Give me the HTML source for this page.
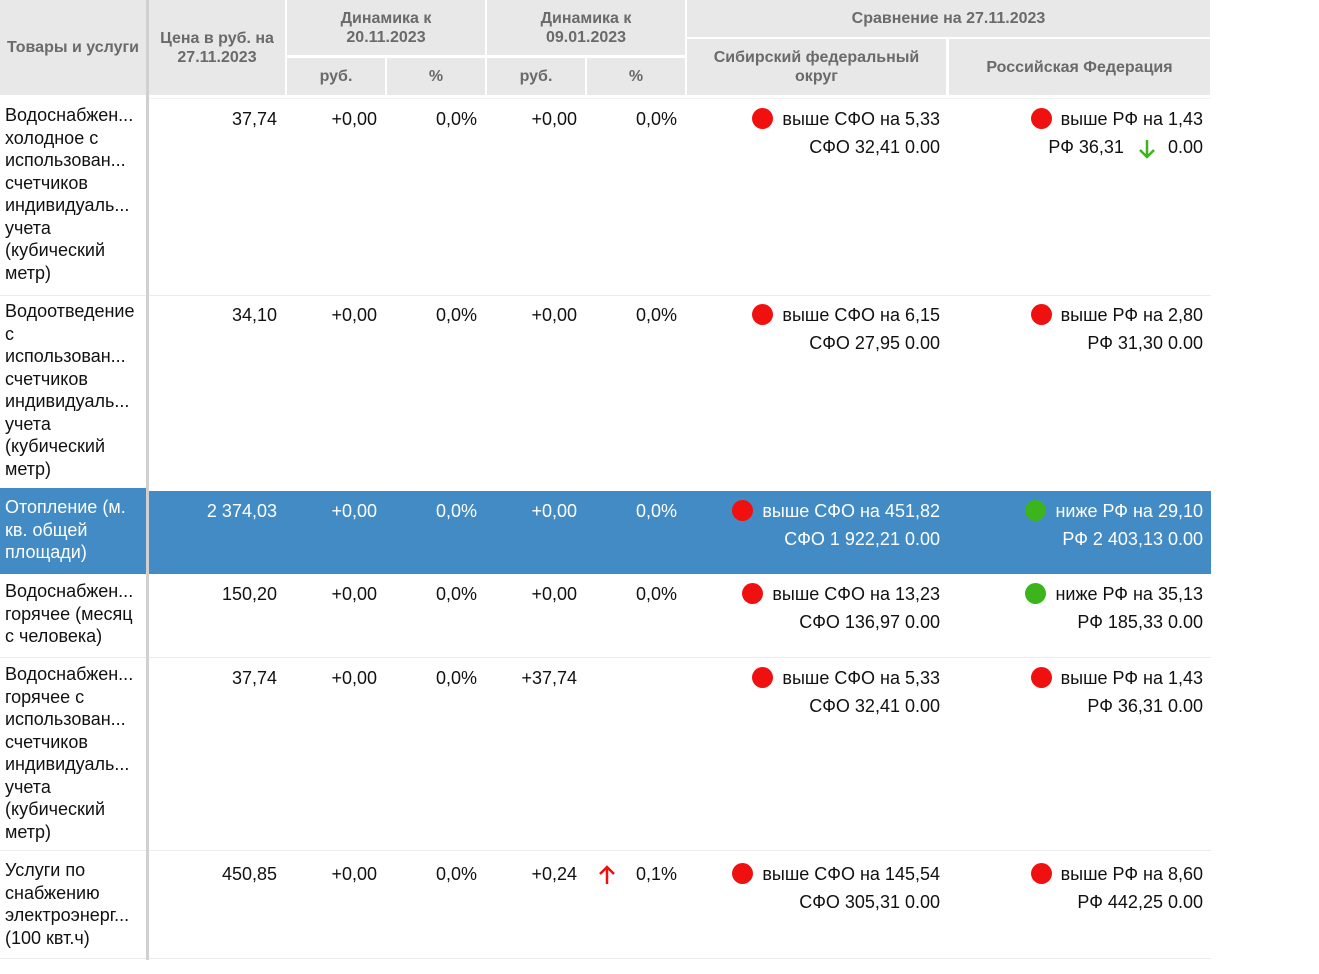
<!DOCTYPE html>
<html><head><meta charset="utf-8"><style>
body{margin:0;width:1319px;height:974px;background:#fff;position:relative;overflow:hidden;font-family:"Liberation Sans",sans-serif;color:#111}
div{position:absolute;box-sizing:border-box}
.h{background:#e8e8e8;color:#6a6a6a;font-weight:bold;font-size:16px;line-height:19px;text-align:center;display:flex;align-items:center;justify-content:center}
.c{font-size:18px;line-height:22.5px;text-align:right;white-space:nowrap}
.l{font-size:18px;line-height:22.5px;left:5px;width:140px;overflow:hidden}
.cmp{font-size:18px;line-height:28px;text-align:right;white-space:nowrap}
.dot{display:inline-block;width:21px;height:21px;border-radius:50%;background:#f01010;vertical-align:-4px;margin-right:9px}
.g{background:#3cb41c}
.sep{height:1px;background:#ececec;left:149px;width:1062px}
.w{color:#fff}
</style></head><body>
<div class="h" style="left:0;top:0;width:146px;height:95px">Товары и услуги</div>
<div class="h" style="left:149px;top:0;width:136px;height:95px">Цена в руб. на<br>27.11.2023</div>
<div class="h" style="left:287px;top:0;width:198px;height:55px">Динамика к<br>20.11.2023</div>
<div class="h" style="left:487px;top:0;width:198px;height:55px">Динамика к<br>09.01.2023</div>
<div class="h" style="left:287px;top:58px;width:98px;height:37px">руб.</div>
<div class="h" style="left:387px;top:58px;width:98px;height:37px">%</div>
<div class="h" style="left:487px;top:58px;width:98px;height:37px">руб.</div>
<div class="h" style="left:587px;top:58px;width:98px;height:37px">%</div>
<div class="h" style="left:687px;top:0;width:523px;height:37px">Сравнение на 27.11.2023</div>
<div class="h" style="left:687px;top:39px;width:259px;height:56px">Сибирский федеральный<br>округ</div>
<div class="h" style="left:949px;top:39px;width:261px;height:56px">Российская Федерация</div>
<div style="left:146px;top:0;width:3px;height:960px;background:#d0d0d0"></div>
<div class="sep" style="top:98px;background:#f2f2f2"></div>

<div style="left:0;top:488px;width:146px;height:86px;background:#428bc4"></div>
<div style="left:149px;top:491px;width:1062px;height:83px;background:#428bc4"></div>

<div class="sep" style="top:295px"></div>
<div class="sep" style="top:657px"></div>
<div class="sep" style="top:850px"></div>
<div class="sep" style="top:958px"></div>
<div style="left:0;top:295px;width:146px;height:1px;background:#ececec"></div>
<div style="left:0;top:657px;width:146px;height:1px;background:#ececec"></div>
<div style="left:0;top:850px;width:146px;height:1px;background:#ececec"></div>
<div style="left:0;top:958px;width:146px;height:1px;background:#ececec"></div>

<!-- row1 -->
<div class="l" style="top:104px">Водоснабжен...<br>холодное с<br>использован...<br>счетчиков<br>индивидуаль...<br>учета<br>(кубический<br>метр)</div>
<div class="c" style="left:149px;width:128px;top:108px">37,74</div>
<div class="c" style="left:287px;width:90px;top:108px">+0,00</div>
<div class="c" style="left:387px;width:90px;top:108px">0,0%</div>
<div class="c" style="left:487px;width:90px;top:108px">+0,00</div>
<div class="c" style="left:587px;width:90px;top:108px">0,0%</div>
<div class="cmp" style="left:687px;width:253px;top:105px"><span class="dot"></span>выше СФО на 5,33<br>СФО 32,41 0.00</div>
<div class="cmp" style="left:949px;width:254px;top:105px"><span class="dot"></span>выше РФ на 1,43<br>РФ 36,31<span style="display:inline-block;width:44px"></span>0.00</div>
<svg style="position:absolute;left:1137px;top:138px" width="20" height="22"><path d="M10 2V19M3 12L10 19L17 12" stroke="#3cb41c" stroke-width="2.5" fill="none"/></svg>

<!-- row2 -->
<div class="l" style="top:300px">Водоотведение<br>с<br>использован...<br>счетчиков<br>индивидуаль...<br>учета<br>(кубический<br>метр)</div>
<div class="c" style="left:149px;width:128px;top:304px">34,10</div>
<div class="c" style="left:287px;width:90px;top:304px">+0,00</div>
<div class="c" style="left:387px;width:90px;top:304px">0,0%</div>
<div class="c" style="left:487px;width:90px;top:304px">+0,00</div>
<div class="c" style="left:587px;width:90px;top:304px">0,0%</div>
<div class="cmp" style="left:687px;width:253px;top:301px"><span class="dot"></span>выше СФО на 6,15<br>СФО 27,95 0.00</div>
<div class="cmp" style="left:949px;width:254px;top:301px"><span class="dot"></span>выше РФ на 2,80<br>РФ 31,30 0.00</div>

<!-- row3 -->
<div class="l w" style="top:496px">Отопление (м.<br>кв. общей<br>площади)</div>
<div class="c w" style="left:149px;width:128px;top:500px">2 374,03</div>
<div class="c w" style="left:287px;width:90px;top:500px">+0,00</div>
<div class="c w" style="left:387px;width:90px;top:500px">0,0%</div>
<div class="c w" style="left:487px;width:90px;top:500px">+0,00</div>
<div class="c w" style="left:587px;width:90px;top:500px">0,0%</div>
<div class="cmp w" style="left:687px;width:253px;top:497px"><span class="dot"></span>выше СФО на 451,82<br>СФО 1 922,21 0.00</div>
<div class="cmp w" style="left:949px;width:254px;top:497px"><span class="dot g"></span>ниже РФ на 29,10<br>РФ 2 403,13 0.00</div>

<!-- row4 -->
<div class="l" style="top:580px">Водоснабжен...<br>горячее (месяц<br>с человека)</div>
<div class="c" style="left:149px;width:128px;top:583px">150,20</div>
<div class="c" style="left:287px;width:90px;top:583px">+0,00</div>
<div class="c" style="left:387px;width:90px;top:583px">0,0%</div>
<div class="c" style="left:487px;width:90px;top:583px">+0,00</div>
<div class="c" style="left:587px;width:90px;top:583px">0,0%</div>
<div class="cmp" style="left:687px;width:253px;top:580px"><span class="dot"></span>выше СФО на 13,23<br>СФО 136,97 0.00</div>
<div class="cmp" style="left:949px;width:254px;top:580px"><span class="dot g"></span>ниже РФ на 35,13<br>РФ 185,33 0.00</div>

<!-- row5 -->
<div class="l" style="top:663px">Водоснабжен...<br>горячее с<br>использован...<br>счетчиков<br>индивидуаль...<br>учета<br>(кубический<br>метр)</div>
<div class="c" style="left:149px;width:128px;top:667px">37,74</div>
<div class="c" style="left:287px;width:90px;top:667px">+0,00</div>
<div class="c" style="left:387px;width:90px;top:667px">0,0%</div>
<div class="c" style="left:487px;width:90px;top:667px">+37,74</div>
<div class="cmp" style="left:687px;width:253px;top:664px"><span class="dot"></span>выше СФО на 5,33<br>СФО 32,41 0.00</div>
<div class="cmp" style="left:949px;width:254px;top:664px"><span class="dot"></span>выше РФ на 1,43<br>РФ 36,31 0.00</div>

<!-- row6 -->
<div class="l" style="top:859px">Услуги по<br>снабжению<br>электроэнерг...<br>(100 квт.ч)</div>
<div class="c" style="left:149px;width:128px;top:863px">450,85</div>
<div class="c" style="left:287px;width:90px;top:863px">+0,00</div>
<div class="c" style="left:387px;width:90px;top:863px">0,0%</div>
<div class="c" style="left:487px;width:90px;top:863px">+0,24</div>
<svg style="position:absolute;left:597px;top:864px" width="20" height="22"><path d="M10 20V3M3 10L10 3L17 10" stroke="#f01010" stroke-width="2.5" fill="none"/></svg>
<div class="c" style="left:587px;width:90px;top:863px">0,1%</div>
<div class="cmp" style="left:687px;width:253px;top:860px"><span class="dot"></span>выше СФО на 145,54<br>СФО 305,31 0.00</div>
<div class="cmp" style="left:949px;width:254px;top:860px"><span class="dot"></span>выше РФ на 8,60<br>РФ 442,25 0.00</div>
</body></html>
